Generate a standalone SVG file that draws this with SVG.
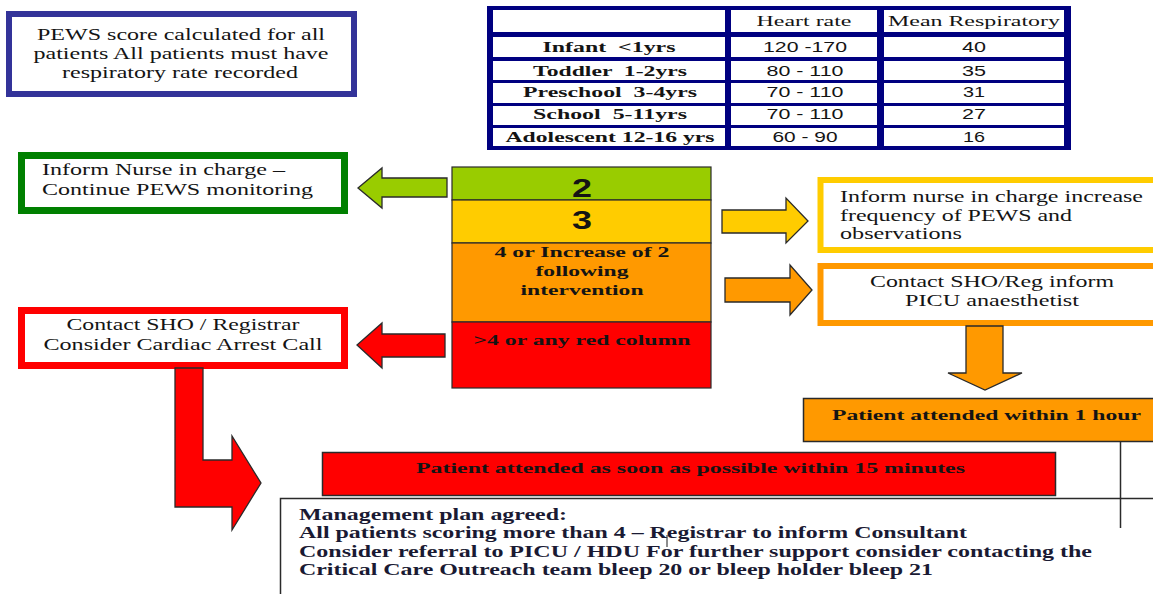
<svg xmlns="http://www.w3.org/2000/svg" width="1153" height="594" viewBox="0 0 1153 594">
  <style>
    .serif { font-family: "Liberation Serif", "Times New Roman", serif; fill: #141414; }
    .sans { font-family: "Liberation Sans", Arial, sans-serif; fill: #141414; }
    .reg { font-size: 16px; }
    .bold { font-weight: bold; }
    .cell { fill: #ffffff; }
    .arrow { stroke: #2a2a2a; stroke-width: 1.3; stroke-linejoin: miter; }
    .band { stroke: #2a2a2a; stroke-width: 1.2; }
    .rule { stroke: #2a2a2a; stroke-width: 1.5; fill: none; }
  </style>

  <rect width="1153" height="594" fill="#ffffff"/>

  <!-- Intro note -->
  <g id="intro">
    <rect x="9" y="14" width="345" height="80" fill="#ffffff" stroke="#333399" stroke-width="6"/>
    <text class="serif reg" x="181" y="40" text-anchor="middle" textLength="288" lengthAdjust="spacingAndGlyphs">PEWS score calculated for all</text>
    <text class="serif reg" x="181" y="59" text-anchor="middle" textLength="295" lengthAdjust="spacingAndGlyphs">patients All patients must have</text>
    <text class="serif reg" x="180" y="78" text-anchor="middle" textLength="236" lengthAdjust="spacingAndGlyphs">respiratory rate recorded</text>
  </g>

  <!-- Normal ranges by age -->
  <g id="ranges-table">
    <rect x="487" y="6" width="584" height="144" fill="#000080"/>
    <!-- header row -->
    <rect class="cell" x="493" y="10" width="232" height="22"/>
    <rect class="cell" x="731" y="10" width="146" height="22"/>
    <rect class="cell" x="884" y="10" width="180" height="22"/>
    <!-- data rows -->
    <rect class="cell" x="493" y="37" width="232" height="20"/>
    <rect class="cell" x="731" y="37" width="146" height="20"/>
    <rect class="cell" x="884" y="37" width="180" height="20"/>
    <rect class="cell" x="493" y="61" width="232" height="19"/>
    <rect class="cell" x="731" y="61" width="146" height="19"/>
    <rect class="cell" x="884" y="61" width="180" height="19"/>
    <rect class="cell" x="493" y="83" width="232" height="20"/>
    <rect class="cell" x="731" y="83" width="146" height="20"/>
    <rect class="cell" x="884" y="83" width="180" height="20"/>
    <rect class="cell" x="493" y="106" width="232" height="19"/>
    <rect class="cell" x="731" y="106" width="146" height="19"/>
    <rect class="cell" x="884" y="106" width="180" height="19"/>
    <rect class="cell" x="493" y="128" width="232" height="18"/>
    <rect class="cell" x="731" y="128" width="146" height="18"/>
    <rect class="cell" x="884" y="128" width="180" height="18"/>

    <text class="serif" font-size="15" x="804" y="26" text-anchor="middle" textLength="95" lengthAdjust="spacingAndGlyphs">Heart rate</text>
    <text class="serif" font-size="15" x="974" y="26" text-anchor="middle" textLength="172" lengthAdjust="spacingAndGlyphs">Mean Respiratory</text>

    <g class="serif bold" font-size="15" text-anchor="middle">
      <text x="609" y="52" textLength="133" lengthAdjust="spacingAndGlyphs">Infant &#160;&lt;1yrs</text>
      <text x="610" y="76" textLength="154" lengthAdjust="spacingAndGlyphs">Toddler &#160;1-2yrs</text>
      <text x="610" y="97" textLength="174" lengthAdjust="spacingAndGlyphs">Preschool &#160;3-4yrs</text>
      <text x="610" y="119" textLength="154" lengthAdjust="spacingAndGlyphs">School &#160;5-11yrs</text>
      <text x="610" y="142" textLength="209" lengthAdjust="spacingAndGlyphs">Adolescent 12-16 yrs</text>
    </g>
    <g class="sans" font-size="14" text-anchor="middle">
      <text x="805" y="52" textLength="84" lengthAdjust="spacingAndGlyphs">120 -170</text>
      <text x="805" y="76" textLength="77" lengthAdjust="spacingAndGlyphs">80 - 110</text>
      <text x="805" y="97" textLength="77" lengthAdjust="spacingAndGlyphs">70 - 110</text>
      <text x="805" y="119" textLength="77" lengthAdjust="spacingAndGlyphs">70 - 110</text>
      <text x="805" y="142" textLength="65" lengthAdjust="spacingAndGlyphs">60 - 90</text>
      <text x="974" y="52" textLength="24" lengthAdjust="spacingAndGlyphs">40</text>
      <text x="974" y="76" textLength="24" lengthAdjust="spacingAndGlyphs">35</text>
      <text x="974" y="97" textLength="22" lengthAdjust="spacingAndGlyphs">31</text>
      <text x="974" y="119" textLength="24" lengthAdjust="spacingAndGlyphs">27</text>
      <text x="974" y="142" textLength="22" lengthAdjust="spacingAndGlyphs">16</text>
    </g>
  </g>

  <!-- PEWS score bands -->
  <g id="score-column">
    <rect class="band" x="452" y="167" width="259" height="33" fill="#99cc00"/>
    <rect class="band" x="452" y="200" width="259" height="43" fill="#ffcc00"/>
    <rect class="band" x="452" y="243" width="259" height="79" fill="#ff9900"/>
    <rect class="band" x="452" y="322" width="259" height="66" fill="#ff0000"/>
    <text class="sans bold" font-size="26" x="582" y="197" text-anchor="middle" textLength="20" lengthAdjust="spacingAndGlyphs">2</text>
    <text class="sans bold" font-size="26" x="582" y="229" text-anchor="middle" textLength="20" lengthAdjust="spacingAndGlyphs">3</text>
    <g class="serif bold" font-size="14" text-anchor="middle">
      <text x="582" y="257" textLength="175" lengthAdjust="spacingAndGlyphs">4 or Increase of 2</text>
      <text x="582" y="276" textLength="93" lengthAdjust="spacingAndGlyphs">following</text>
      <text x="582" y="295" textLength="123" lengthAdjust="spacingAndGlyphs">intervention</text>
      <text x="582" y="345" textLength="217" lengthAdjust="spacingAndGlyphs">&gt;4 or any red column</text>
    </g>
  </g>

  <!-- Action boxes -->
  <g id="score-2-action">
    <rect x="21.5" y="155.5" width="323" height="55" fill="#ffffff" stroke="#008000" stroke-width="7"/>
    <text class="serif reg" x="42" y="175" textLength="243" lengthAdjust="spacingAndGlyphs">Inform Nurse in charge –</text>
    <text class="serif reg" x="42" y="195" textLength="271" lengthAdjust="spacingAndGlyphs">Continue PEWS monitoring</text>
  </g>

  <g id="score-3-action">
    <rect x="820.5" y="180" width="345" height="70" fill="#ffffff" stroke="#ffcc00" stroke-width="6"/>
    <text class="serif reg" x="840" y="202" textLength="303" lengthAdjust="spacingAndGlyphs">Inform nurse in charge increase</text>
    <text class="serif reg" x="840" y="221" textLength="232" lengthAdjust="spacingAndGlyphs">frequency of PEWS and</text>
    <text class="serif reg" x="840" y="239" textLength="122" lengthAdjust="spacingAndGlyphs">observations</text>
  </g>

  <g id="score-4-action">
    <rect x="820.5" y="266" width="345" height="57" fill="#ffffff" stroke="#ff9900" stroke-width="6"/>
    <text class="serif reg" x="992" y="287" text-anchor="middle" textLength="244" lengthAdjust="spacingAndGlyphs">Contact SHO/Reg inform</text>
    <text class="serif reg" x="992" y="306" text-anchor="middle" textLength="174" lengthAdjust="spacingAndGlyphs">PICU anaesthetist</text>
  </g>

  <g id="red-action">
    <rect x="21.5" y="310.5" width="323" height="55" fill="#ffffff" stroke="#ff0000" stroke-width="7"/>
    <text class="serif reg" x="183" y="330" text-anchor="middle" textLength="233" lengthAdjust="spacingAndGlyphs">Contact SHO / Registrar</text>
    <text class="serif reg" x="183" y="350" text-anchor="middle" textLength="279" lengthAdjust="spacingAndGlyphs">Consider Cardiac Arrest Call</text>
  </g>

  <g id="attend-1-hour">
    <rect x="803.5" y="398.5" width="360" height="43" fill="#ff9900" stroke="#2a2a2a" stroke-width="1.5"/>
    <text class="serif bold" font-size="15" x="832" y="420" textLength="309" lengthAdjust="spacingAndGlyphs">Patient attended within 1 hour</text>
  </g>

  <g id="attend-15-minutes">
    <rect x="322.5" y="452.5" width="733" height="43" fill="#ff0000" stroke="#2a2a2a" stroke-width="1.5"/>
    <text class="serif bold" font-size="15" x="416" y="473" textLength="549" lengthAdjust="spacingAndGlyphs">Patient attended as soon as possible within 15 minutes</text>
  </g>

  <g id="management-plan">
    <path class="rule" d="M280.5 594 V498.5 H1153"/>
    <g class="serif bold" font-size="16.5" style="fill:#1a1a33">
      <text x="299" y="520" textLength="268" lengthAdjust="spacingAndGlyphs">Management plan agreed:</text>
      <text x="299" y="538" textLength="668" lengthAdjust="spacingAndGlyphs">All patients scoring more than 4 – Registrar to inform Consultant</text>
      <text x="299" y="557" textLength="793" lengthAdjust="spacingAndGlyphs">Consider referral to PICU / HDU For further support consider contacting the</text>
      <text x="299" y="575" textLength="634" lengthAdjust="spacingAndGlyphs">Critical Care Outreach team bleep 20 or bleep holder bleep 21</text>
    </g>
    <line x1="667" y1="535" x2="667" y2="547" stroke="#1a1a1a" stroke-width="1"/>
  </g>

  <!-- Block arrows linking bands to actions -->
  <g id="connectors">
    <polygon class="arrow" fill="#99cc00" points="447,178 382,178 382,168 358,188 382,208 382,197 447,197"/>
    <polygon class="arrow" fill="#ff0000" points="445,334 382,334 382,323 357,345 382,368 382,357 445,357"/>
    <polygon class="arrow" fill="#ffcc00" points="722,210 786,210 786,198 808,221 786,243 786,233 722,233"/>
    <polygon class="arrow" fill="#ff9900" points="725,278 790,278 790,265 812,290 790,315 790,302 725,302"/>
    <polygon class="arrow" fill="#ff9900" points="966,326 1003,326 1003,373 1022,373 985,390 948,373 966,373"/>
    <polygon class="arrow" fill="#ff0000" points="175,368 203,368 203,460 232,460 232,436 261,483 232,530 232,507 175,507"/>
    <line x1="1120.5" y1="441" x2="1120.5" y2="528" stroke="#2a2a2a" stroke-width="1.5"/>
  </g>
</svg>
